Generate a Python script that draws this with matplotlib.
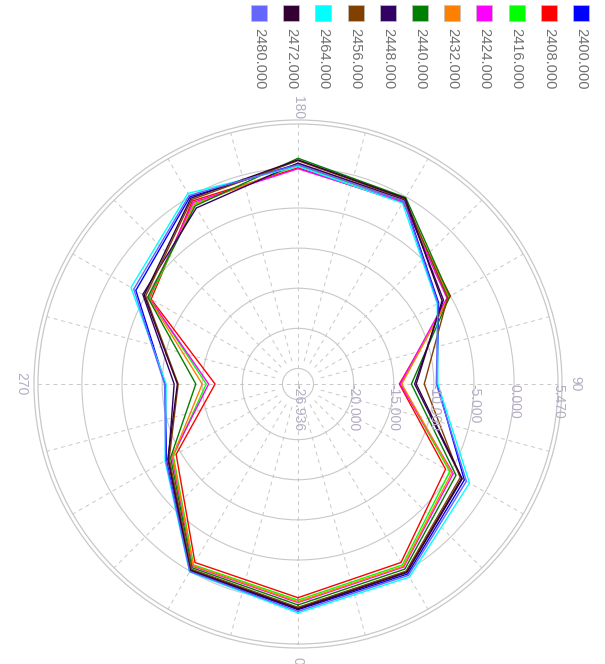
import matplotlib
matplotlib.use('Agg')
import matplotlib.pyplot as plt
from matplotlib.patches import Circle
import numpy as np

plt.rcParams['font.family'] = ['Liberation Sans', 'DejaVu Sans']

# angle of each measured point (deg)
angles = [0, 30, 60, 90, 120, 150, 180, 210, 240, 270, 300, 330]

# gain (dB) for each frequency, same order as angles
g2400 = [1.2, 0.4, -3.0, -9.6, -6.7, -0.5, 0.5, 0.0, -3.6, -10.4, -8.0, 0.0]
g2408 = [-0.3, -1.25, -5.7, -14.3, -5.0, -0.8, 0.0, -0.6, -5.8, -16.6, -9.4, -1.25]
g2416 = [0.0, -0.9, -5.1, -14.1, -5.3, -0.6, 0.3, -1.0, -5.6, -15.5, -9.0, -0.9]
g2424 = [0.3, -0.6, -4.6, -14.2, -5.5, -0.7, -0.1, -0.8, -5.5, -15.8, -8.8, -0.7]
g2432 = [0.2, -0.7, -4.8, -14.0, -5.2, -0.5, 0.4, -1.1, -5.4, -15.0, -8.9, -0.8]
g2440 = [0.6, -0.3, -4.2, -12.8, -5.1, -0.1, 1.2, -1.3, -5.3, -14.2, -8.6, -0.5]
g2448 = [1.0, 0.1, -3.4, -12.4, -6.0, -0.4, 0.6, -1.6, -4.6, -11.5, -8.3, -0.2]
g2456 = [0.9, 0.0, -3.6, -11.2, -5.4, -0.3, 0.9, -0.4, -5.0, -12.0, -8.4, -0.3]
g2464 = [1.6, 0.85, -2.25, -9.5, -6.9, -0.9, 0.2, 0.5, -2.9, -10.5, -7.8, 0.1]
g2472 = [1.1, 0.2, -3.3, -12.2, -6.2, -0.2, 1.0, -0.2, -4.8, -11.9, -8.2, -0.1]
g2480 = [1.4, 0.6, -2.7, -9.7, -6.8, -0.6, 0.4, 0.2, -3.3, -10.3, -7.9, 0.05]

freqs = ['2400.000', '2408.000', '2416.000', '2424.000', '2432.000', '2440.000',
         '2448.000', '2456.000', '2464.000', '2472.000', '2480.000']
series = [g2400, g2408, g2416, g2424, g2432, g2440, g2448, g2456, g2464, g2472, g2480]
colors = ['#0000ff', '#ff0000', '#00ff00', '#ff00ff', '#ff8000', '#008000',
          '#330066', '#804000', '#00ffff', '#330033', '#6666ff']

rmin, rmax = -26.936, 5.47
rings = [-25, -20, -15, -10, -5, 0]
ring_labels = [(-26.936, '-26.936'), (-20, '-20.000'), (-15, '-15.000'), (-10, '-10.000'),
               (-5, '-5.000'), (0, '0.000'), (5.47, '5.470')]

W, H = 605, 664
fig = plt.figure(figsize=(W / 100, H / 100), dpi=100)
cx, cy, R = 298, 384, 260
ax = fig.add_axes([(cx - R) / W, (H - cy - R) / H, 2 * R / W, 2 * R / H], projection='polar')
ax.set_theta_zero_location('S')
ax.set_theta_direction(1)
ax.set_ylim(rmin, rmax)
ax.set_rorigin(rmin)

grid_c = '#c8c8c8'
txt_c = '#b4acc4'
ax.set_yticks(rings)
ax.set_yticklabels([])
ax.set_xticks([])
ax.yaxis.grid(True, color=grid_c, lw=0.8, ls='-')
ax.spines['polar'].set_color(grid_c)
ax.spines['polar'].set_linewidth(0.9)
ax.tick_params(length=0)
ax.add_patch(Circle((0.5, 0.5), 0.5 + 4 / (2 * R), transform=ax.transAxes, fill=False,
                    ec=grid_c, lw=0.9, clip_on=False))

# dashed spokes every 15 deg, starting a little off the centre
for a in np.arange(0, 360, 15):
    r0 = rmin if a % 90 == 0 else -24.0
    ax.plot([np.deg2rad(a)] * 2, [r0, rmax], color=grid_c, lw=0.7, ls=(0, (4, 4)), zorder=1)

th = np.deg2rad(angles + [angles[0]])
for vals, col, f in zip(series, colors, freqs):
    ax.plot(th, vals + [vals[0]], color=col, lw=1.0, label=f, zorder=3)

for r, s in ring_labels:
    ax.text(np.pi / 2, r, s, rotation=-90, rotation_mode='anchor', ha='left', va='center',
            color=txt_c, fontsize=10, zorder=4)

for a, s in [(0, '0'), (90, '90'), (180, '180'), (270, '270')]:
    rr = rmax + 17 / 8.06
    ax.text(np.deg2rad(a), rr, s, rotation=-90, rotation_mode='anchor', ha='center',
            va='center', color=txt_c, fontsize=10, clip_on=False)

# legend drawn as rotated squares + labels along the top
for i, (f, col) in enumerate(zip(freqs, colors)):
    x = 581 - i * 32.2
    fig.patches.append(plt.Rectangle(((x - 8) / W, (H - 21) / H), 16 / W, 16 / H,
                                     transform=fig.transFigure, fc=col, ec='#c0c0c0', lw=0.5))
    fig.text(x / W, (H - 28) / H, f, rotation=-90, rotation_mode='anchor', ha='left',
             va='center', color='#707070', fontsize=10.5)

fig.savefig('out.png', dpi=100)
